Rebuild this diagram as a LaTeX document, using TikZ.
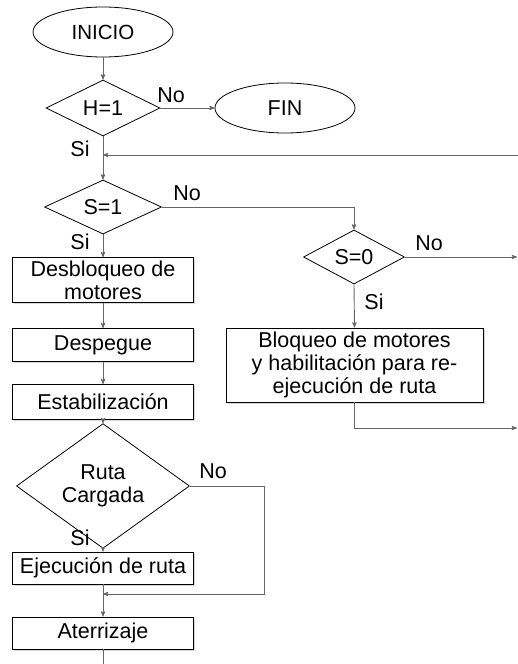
\documentclass[tikz,border=0pt]{standalone}
\usepackage{fontspec}
\setmainfont{Liberation Sans}
\usepackage{tikz}
\usetikzlibrary{shapes.geometric,arrows,shadows}

\begin{document}
\begin{tikzpicture}[>=stealth',x=1pt,y=-1pt,line width=0.8pt,
                    every node/.style={font=\fontsize{21.5}{23}\selectfont},
                    term node/.style={ellipse,draw,minimum width=140,minimum height=50,inner sep=0pt},
                    dec node/.style={diamond,draw,inner sep=0pt,align=center},
                    proc node/.style={rectangle,draw,fill=white,align=center,inner sep=0pt,
                                      drop shadow={shadow xshift=1.5pt,shadow yshift=-1.5pt,fill=black!30}},
                    link/.style={draw=black!60,line width=0.9pt},
                    lbl/.style={inner sep=0pt}]
  \useasboundingbox (0,0) rectangle (518,664);

  \node[term node,font=\fontsize{20.5}{22}\selectfont] (inicio) at (103,32) {INICIO};
  \node[dec node,minimum width=114,minimum height=56] (h1) at (103,108) {H=1};
  \node[term node] (fin) at (285,108) {FIN};
  \node[dec node,minimum width=117,minimum height=54] (s1) at (103,207) {S=1};
  \node[dec node,minimum width=101,minimum height=53] (s0) at (354,257) {S=0};
  \node[proc node,minimum width=181,minimum height=45] (desb) at (103,280) {Desbloqueo de\\motores};
  \node[proc node,minimum width=181,minimum height=33] (desp) at (103,345) {Despegue};
  \node[proc node,minimum width=181,minimum height=35] (estab) at (103,402) {Estabilización};
  \node[proc node,minimum width=257,minimum height=74] (bloq) at (354.5,365)
       {Bloqueo de motores\\y habilitación para re-\\ejecución de ruta};
  \node[dec node,minimum width=173,minimum height=82] (ruta) at (103,486) {Ruta\\Cargada};
  \node[proc node,minimum width=181,minimum height=32] (ejec) at (103,568) {Ejecución de ruta};
  \node[proc node,minimum width=181,minimum height=32] (ater) at (103,633) {Aterrizaje};

  \node[lbl] (noh1) at (171,95) {No};
  \node[lbl] (sih1) at (80,149) {Si};
  \node[lbl] (nos1) at (187,193) {No};
  \node[lbl] (sis1) at (80,242) {Si};
  \node[lbl] (nos0) at (429,243) {No};
  \node[lbl] (sis0) at (374,302) {Si};
  \node[lbl] (noruta) at (213,471) {No};
  \node[lbl] (siruta) at (80,538) {Si};

  \coordinate (vuelta) at (518,155);
  \coordinate (salida1) at (517,257);
  \coordinate (salida2) at (517,428);
  \coordinate (union) at (103,594);
  \coordinate (fondo) at (103,664);

  \draw[link,->] (inicio) -- (h1);
  \draw[link,->] (h1.east) -- (fin.west);
  \draw[link,->] (h1.south) -- (s1.north);
  \draw[link,->] (vuelta) -- (vuelta -| h1.south);
  \draw[link,->] (s1.east) -| (s0.north);
  \draw[link,->] (s0.east) -- (salida1);
  \draw[link,->] (s0.south) -- (bloq.north);
  \draw[link,->] (bloq.south) |- (salida2);
  \draw[link,->] (s1.south) -- (desb.north);
  \draw[link,->] (desb) -- (desp);
  \draw[link,->] (desp) -- (estab);
  \draw[link,->] (estab) -- (ruta);
  \draw[link,->] (ruta.south) -- (ejec.north);
  \draw[link,->] (ruta.east) -- ++(75,0) |- (union);
  \draw[link,->] (ejec) -- (ater);
  \draw[link] (ater.south) -- (fondo);
\end{tikzpicture}
\end{document}
